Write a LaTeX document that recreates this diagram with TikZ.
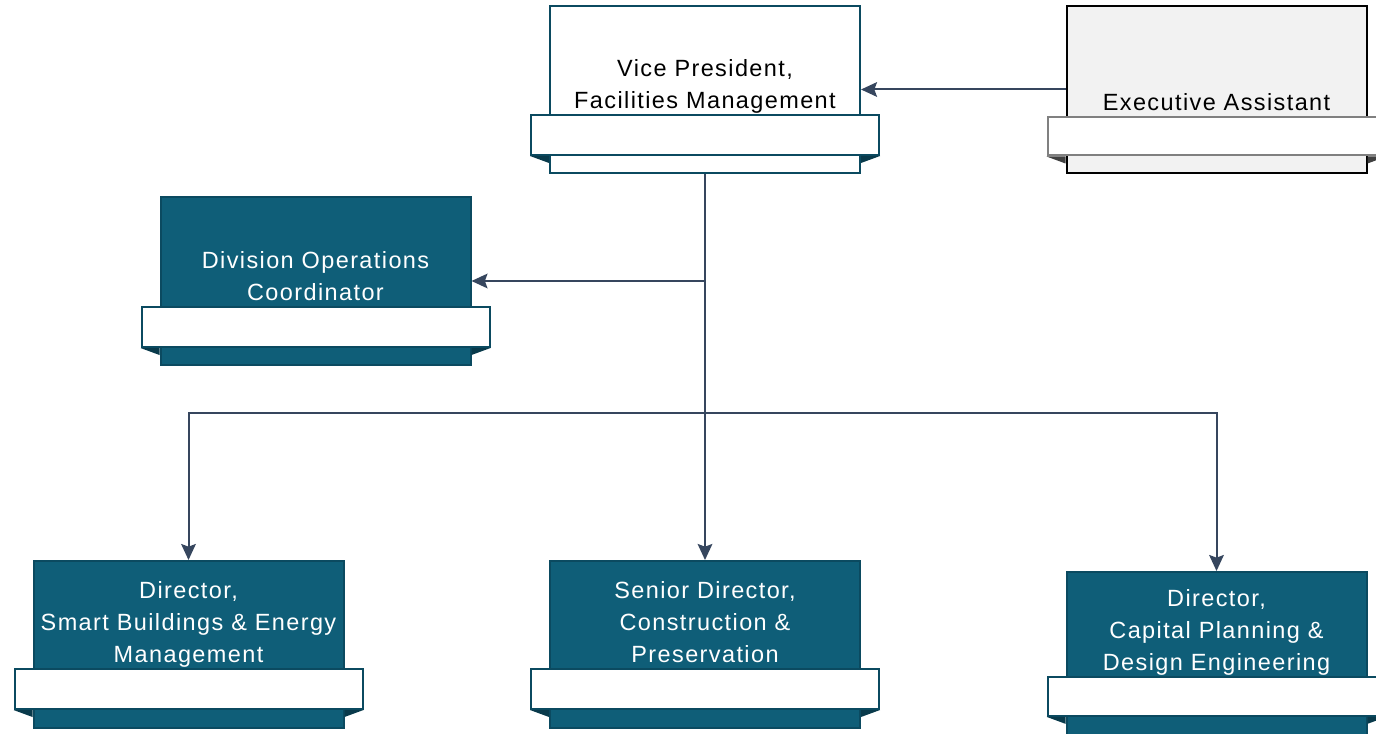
\documentclass[tikz,border=0pt]{standalone}
\usepackage{fontspec}
\setmainfont{Liberation Sans}
\newfontfamily\chartfont[LetterSpace=6]{Liberation Sans}
\usepackage{tikz}
\usetikzlibrary{arrows.meta}
\usetikzlibrary{positioning}
\usetikzlibrary{calc}
\usepackage{xcolor}
\definecolor{unitteal}{HTML}{0F5E78}
\definecolor{unitedge}{HTML}{0B4A60}
\definecolor{folddark}{HTML}{093A4B}
\definecolor{linkgray}{HTML}{36465E}
\definecolor{assistfill}{HTML}{F2F2F2}
\tikzset{
  % arrow tip used by every reporting line
  >={Stealth[length=12pt,width=11pt,inset=2pt]},
  link/.style={draw=linkgray, line width=1.5pt, ->},
  unitbox/.style={draw=unitedge, line width=1.5pt, rectangle, inner sep=0pt,
    minimum width=232.5pt, minimum height=125.25pt},
  band/.style={draw=unitedge, line width=1.5pt, fill=white, rectangle, inner sep=0pt,
    minimum width=261pt, minimum height=30pt},
  title/.style={align=center, inner sep=0pt, anchor=south, yshift=-3pt,
    font=\chartfont\fontsize{17.6pt}{24pt}\selectfont}
}

\begin{document}
\begin{tikzpicture}[x=0.75pt, y=-0.75pt]
    \useasboundingbox (0,0) rectangle (1376,734);
    % Define styles
    \tikzstyle{tealbox} = [unitbox, fill=unitteal]
    \tikzstyle{whitebox} = [unitbox, fill=white]
    \tikzstyle{assistbox} = [unitbox, fill=assistfill, draw=black, minimum width=225pt]

    % Place boxes
    \node [whitebox] (vp) at (705,89.5) {};
    \node [assistbox] (ea) at (1216.5,89.5) {};
    \node [tealbox] (doc) at (315.5,281) {};
    \node [tealbox] (smart) at (188.5,644.5) {};
    \node [tealbox] (senior) at (705,644.5) {};
    \node [tealbox, minimum width=225pt] (capital) at (1216.5,655.5) {};

    % Bands
    \node [band] (vp-band) at (705,135) {};
    \node [band, draw=gray, minimum width=253.5pt, minimum height=28.5pt] (ea-band) at (1216.5,136.5) {};
    \node [band] (doc-band) at (315.5,327) {};
    \node [band] (smart-band) at (188.5,689) {};
    \node [band] (senior-band) at (705,689) {};
    \node [band, minimum width=253.5pt, minimum height=29pt] (capital-band) at (1216.5,696.5) {};

    % Fold corners under the bands
    \foreach \n/\c in {vp/folddark, ea/darkgray, doc/folddark, smart/folddark, senior/folddark, capital/folddark} {
      \fill [\c] (\n-band.south west) -- (\n-band.south west -| \n.west) -- ++(0,7) -- cycle;
      \fill [\c] (\n-band.south east) -- (\n-band.south east -| \n.east) -- ++(0,7) -- cycle;
    }

    % Titles
    \node [title] (vp-title) at (vp-band.north) {Vice President,\\Facilities Management\strut};
    \node [title] (ea-title) at (ea-band.north) {Executive Assistant\strut};
    \node [title, text=white] (doc-title) at (doc-band.north) {Division Operations\\Coordinator\strut};
    \node [title, text=white] (smart-title) at (smart-band.north) {Director,\\Smart Buildings \& Energy\\Management\strut};
    \node [title, text=white] (senior-title) at (senior-band.north) {Senior Director,\\Construction \&\\Preservation\strut};
    \node [title, text=white] (capital-title) at (capital-band.north) {Director,\\Capital Planning \&\\Design Engineering\strut};

    % Draw edges
    \coordinate (bus) at (705,413);
    \path [link] (ea.west) -- (vp.east);
    \path [link] (vp.south) -- (senior.north);
    \path [link] (vp.south) |- (doc.east);
    \path [link] (bus) -| (smart.north);
    \path [link] (bus) -| (capital.north);
\end{tikzpicture}
\end{document}
